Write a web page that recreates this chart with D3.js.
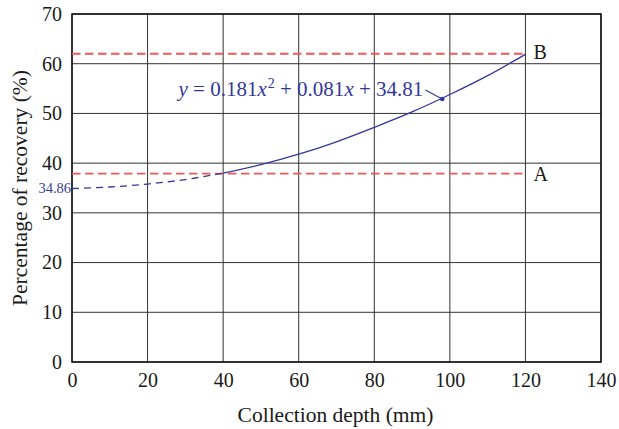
<!DOCTYPE html>
<html>
<head>
<meta charset="utf-8">
<script src="https://cdn.jsdelivr.net/npm/d3@7"></script>
<style>
  body { margin: 0; background: #fff; }
  text { font-family: "Liberation Serif", "DejaVu Serif", serif; }
</style>
</head>
<body>
<script>
// values
const depth = [0, 10, 20, 30, 40, 50, 60, 70, 80, 90, 100, 110, 120];
const recovery = [34.9, 35.2, 35.8, 36.7, 38.0, 39.7, 41.8, 44.3, 47.2, 50.3, 53.8, 57.6, 61.9];
const dashedUntil = 40;
const levelA = 37.9, levelB = 62;
const xTicks = [0, 20, 40, 60, 80, 100, 120, 140];
const yTicks = [0, 10, 20, 30, 40, 50, 60, 70];
const dotPoint = [98, 52.9];

const w = 619, h = 429;
const margin = { left: 72, right: 18, top: 14, bottom: 67 };
const blue = '#34379a', red = '#ee5858', ink = '#1a1a1a';

const svg = d3.select('body').append('svg').attr('width', w).attr('height', h);

const x = d3.scaleLinear().domain([0, 140]).range([margin.left, w - margin.right]);
const y = d3.scaleLinear().domain([0, 70]).range([h - margin.bottom, margin.top]);

// grid
svg.append('g')
  .selectAll('line.v')
  .data(xTicks)
  .enter()
  .append('line')
  .attr('x1', d => x(d)).attr('x2', d => x(d))
  .attr('y1', y(0)).attr('y2', y(70))
  .attr('stroke', '#333').attr('stroke-width', 1);

svg.append('g')
  .selectAll('line.h')
  .data(yTicks)
  .enter()
  .append('line')
  .attr('x1', x(0)).attr('x2', x(140))
  .attr('y1', d => y(d)).attr('y2', d => y(d))
  .attr('stroke', '#333').attr('stroke-width', 1);

// frame
svg.append('rect')
  .attr('x', x(0)).attr('y', y(70))
  .attr('width', x(140) - x(0)).attr('height', y(0) - y(70))
  .attr('fill', 'none').attr('stroke', '#111').attr('stroke-width', 1.5);

// axes (labels only)
const xAxis = d3.axisBottom(x).tickValues(xTicks).tickSize(0).tickPadding(11);
const gx = svg.append('g').attr('transform', `translate(0, ${y(0)})`).call(xAxis);
gx.select('.domain').remove();
gx.selectAll('text').attr('font-size', 20).attr('fill', ink)
  .style('font-family', '"Liberation Serif", serif');

const yAxis = d3.axisLeft(y).tickValues(yTicks).tickSize(0).tickPadding(10);
const gy = svg.append('g').attr('transform', `translate(${x(0)}, 0)`).call(yAxis);
gy.select('.domain').remove();
gy.selectAll('text').attr('font-size', 20).attr('fill', ink)
  .style('font-family', '"Liberation Serif", serif');

// reference levels A and B
[levelA, levelB].forEach(v => {
  svg.append('line')
    .attr('x1', x(0)).attr('x2', x(120))
    .attr('y1', y(v)).attr('y2', y(v))
    .attr('stroke', red).attr('stroke-width', 1.8)
    .attr('stroke-dasharray', '8.5,4.5');
});
svg.append('text').attr('x', x(120) + 8).attr('y', y(levelA) + 7)
  .attr('font-size', 20).attr('fill', ink).text('A');
svg.append('text').attr('x', x(120) + 8).attr('y', y(levelB) + 5)
  .attr('font-size', 20).attr('fill', ink).text('B');

// fitted curve
const pts = depth.map((d, i) => [d, recovery[i]]);
const line = d3.line().x(d => x(d[0])).y(d => y(d[1])).curve(d3.curveMonotoneX);

svg.append('path')
  .datum(pts.filter(d => d[0] <= dashedUntil))
  .attr('d', line)
  .attr('fill', 'none').attr('stroke', blue).attr('stroke-width', 1.3)
  .attr('stroke-dasharray', '7,5');

svg.append('path')
  .datum(pts.filter(d => d[0] >= dashedUntil))
  .attr('d', line)
  .attr('fill', 'none').attr('stroke', blue).attr('stroke-width', 1.3);

svg.append('text')
  .attr('x', x(0) - 1).attr('y', y(recovery[0]) + 5)
  .attr('text-anchor', 'end').attr('font-size', 14.5).attr('fill', '#3a3f9c')
  .text('34.86');

// equation label
svg.append('circle')
  .attr('cx', x(dotPoint[0])).attr('cy', y(dotPoint[1])).attr('r', 2.3)
  .attr('fill', blue);
svg.append('line')
  .attr('x1', x(dotPoint[0]) - 17).attr('y1', y(dotPoint[1]) - 9)
  .attr('x2', x(dotPoint[0])).attr('y2', y(dotPoint[1]))
  .attr('stroke', blue).attr('stroke-width', 1.2);

const eq = svg.append('text')
  .attr('x', x(dotPoint[0]) - 19).attr('y', y(dotPoint[1]) - 3)
  .attr('text-anchor', 'end').attr('font-size', 21).attr('fill', blue);
eq.append('tspan').attr('font-style', 'italic').text('y');
eq.append('tspan').text(' = 0.181');
eq.append('tspan').attr('font-style', 'italic').text('x');
eq.append('tspan').attr('font-size', 14).attr('dy', -8).attr('dx', 1).text('2');
eq.append('tspan').attr('dy', 8).text(' + 0.081');
eq.append('tspan').attr('font-style', 'italic').text('x');
eq.append('tspan').text(' + 34.81');

// axis titles
svg.append('text')
  .attr('x', 335.5).attr('y', 422)
  .attr('text-anchor', 'middle').attr('font-size', 21.5).attr('fill', ink)
  .text('Collection depth (mm)');

svg.append('text')
  .attr('transform', `translate(27, ${(y(0) + y(70)) / 2}) rotate(-90)`)
  .attr('text-anchor', 'middle').attr('font-size', 21.5).attr('fill', ink)
  .text('Percentage of recovery (%)');
</script>
</body>
</html>
